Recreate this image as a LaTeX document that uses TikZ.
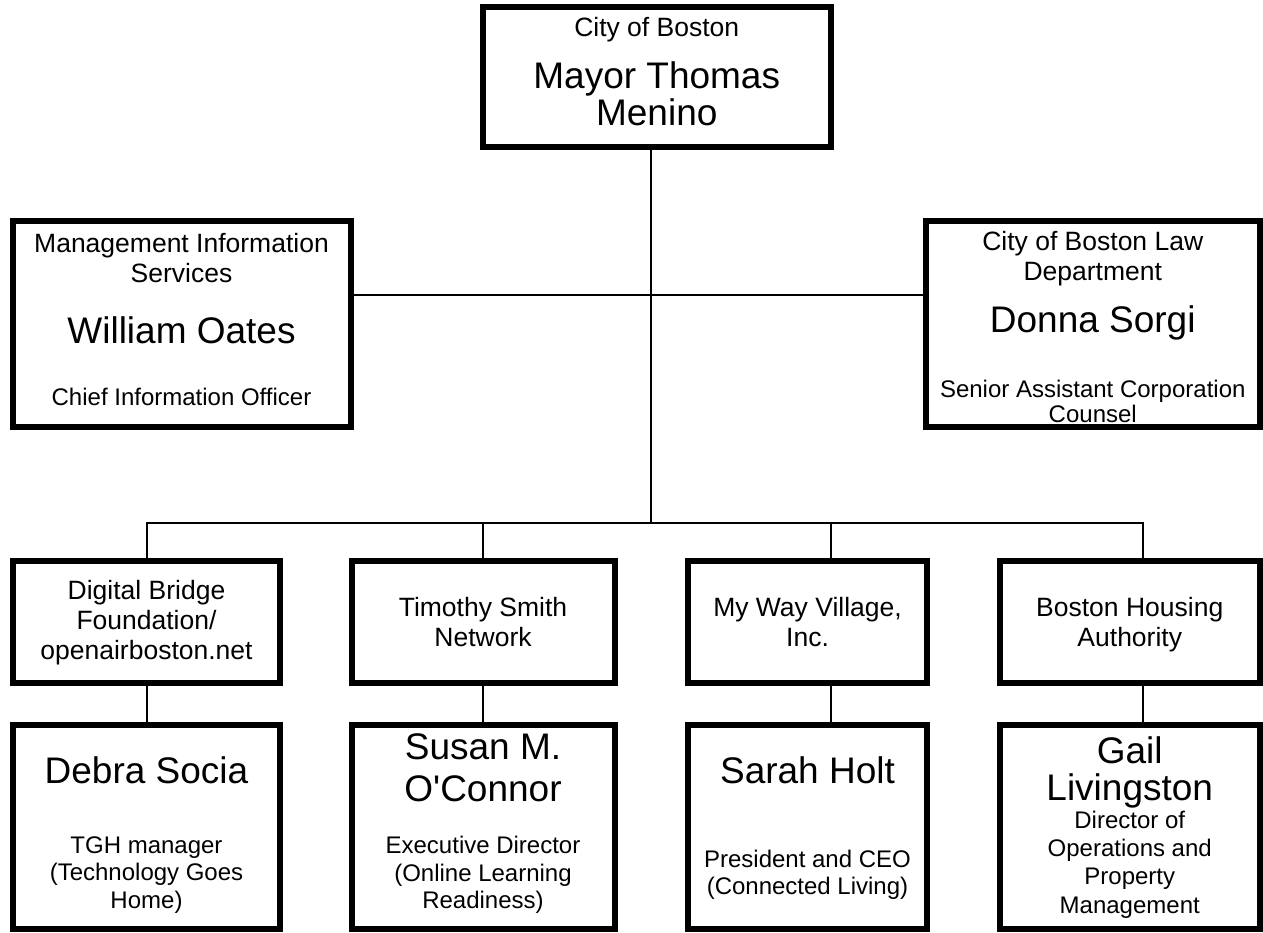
\documentclass[tikz,border=0pt]{standalone}
\usepackage{fontspec}
\setmainfont{Liberation Sans}[Ligatures=TeXOff]
\usetikzlibrary{positioning}

\tikzset{
  box/.style={draw, line width=6pt, inner sep=0pt},
  link/.style={line width=2pt},
  head/.style={font=\fontsize{26.5}{30}\selectfont, align=center, inner sep=0pt},
  person/.style={font=\fontsize{37}{42}\selectfont, align=center, inner sep=0pt},
  role/.style={font=\fontsize{24}{27.5}\selectfont, align=center, inner sep=0pt}
}

\begin{document}
\begin{tikzpicture}[x=1pt, y=-1pt, node distance=205pt, on grid]
        \useasboundingbox (0,0) rectangle (1263,933);

        % boxes
        \node [box, minimum width=347.5pt, minimum height=140pt] (boss) at (656.75,77) {};
        \node [box, minimum width=338pt, minimum height=206pt] (mis) at (181.5,324) {};
        \node [box, minimum width=334.5pt, minimum height=206pt] (law) at (1092.75,324) {};

        \node [box, minimum width=267pt, minimum height=122pt] (db) at (146.5,622) {};
        \node [box, minimum width=263pt, minimum height=122pt] (ts) at (483,622) {};
        \node [box, minimum width=239pt, minimum height=122pt] (mwv) at (807.5,622) {};
        \node [box, minimum width=260.5pt, minimum height=122pt] (bha) at (1129.75,622) {};

        \node [box, minimum width=267pt, minimum height=204pt, below = of db] (debra) {};
        \node [box, minimum width=263pt, minimum height=204pt, below = of ts] (susan) {};
        \node [box, minimum width=239pt, minimum height=204pt, below = of mwv] (sarah) {};
        \node [box, minimum width=260.5pt, minimum height=204pt, below = of bha] (gail) {};

        % texts
        \node [head, anchor=base] (bosshead) at (656.75,37) {City of Boston};
        \node [person, font=\fontsize{37}{37}\selectfont] (bossname) at (656.75,93.4) {Mayor Thomas\\Menino};

        \node [head] (mishead) at (181.5,258) {Management Information\\Services};
        \node [person, anchor=base] (misname) at (181.5,343) {William Oates};
        \node [role, anchor=base] (misrole) at (181.5,405) {Chief Information Officer};

        \node [head] (lawhead) at (1092.75,259) {City of Boston Law\\Department};
        \node [person, anchor=base] (lawname) at (1092.75,332) {Donna Sorgi};
        \node [role, font=\fontsize{24}{25}\selectfont] (lawrole) at (1092.75,401) {Senior Assistant Corporation\\Counsel};

        \node [head] (dbtext) at (146.5,623) {Digital Bridge\\Foundation/\\openairboston.net};
        \node [head] (tstext) at (483,622) {Timothy Smith\\Network};
        \node [head] (mwvtext) at (807.5,622) {My Way Village,\\Inc.};
        \node [head] (bhatext) at (1129.75,625) {Boston Housing\\Authority};

        \node [person, anchor=base] (debraname) at (146.5,783) {Debra Socia};
        \node [person] (susanname) at (483,768) {Susan M.\\O'Connor};
        \node [person, anchor=base] (sarahname) at (807.5,783) {Sarah Holt};
        \node [person, font=\fontsize{37}{37}\selectfont] (gailname) at (1129.75,772) {Gail\\Livingston};

        \node [role] (debrarole) at (146.5,875) {TGH manager\\(Technology Goes\\Home)};
        \node [role] (susanrole) at (483,875) {Executive Director\\(Online Learning\\Readiness)};
        \node [role] (sarahrole) at (807.5,875) {President and CEO\\(Connected Living)};
        \node [role, font=\fontsize{24}{28.3}\selectfont] (gailrole) at (1129.75,864.5) {Director of\\Operations and\\Property\\Management};

        % connectors
        \coordinate (mid) at (651,295);
        \coordinate (hub) at (651,523);
        \coordinate (j1) at (147,523);
        \coordinate (j2) at (483,523);
        \coordinate (j3) at (831,523);
        \coordinate (j4) at (1143,523);

        \draw [link] (boss.south -| hub) -- (hub);
        \draw [link] (mis.east |- mid) -- (law.west |- mid);
        \draw [link] (j1 |- db.north) -- (j1) -- (j4) -- (j4 |- bha.north);

        \path [link] (j2) edge (j2 |- ts.north);
        \path [link] (j3) edge (j3 |- mwv.north);

        \path [link] (j1 |- db.south) edge (j1 |- debra.north);
        \path [link] (j2 |- ts.south) edge (j2 |- susan.north);
        \path [link] (j3 |- mwv.south) edge (j3 |- sarah.north);
        \path [link] (j4 |- bha.south) edge (j4 |- gail.north);
    \end{tikzpicture}
\end{document}
